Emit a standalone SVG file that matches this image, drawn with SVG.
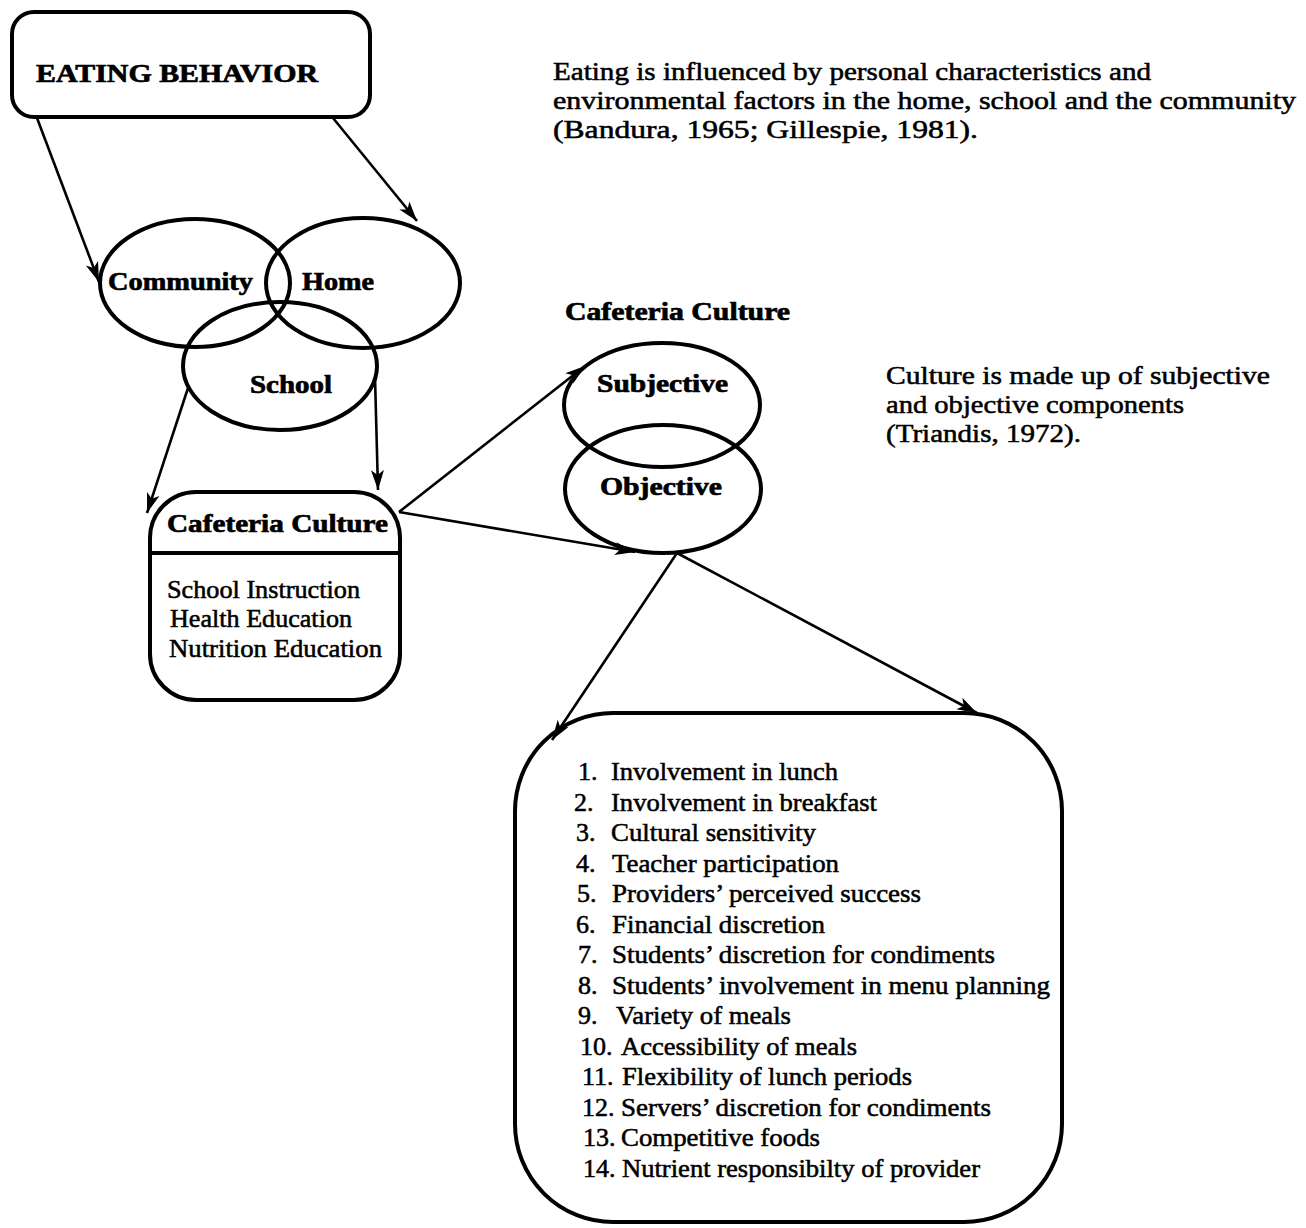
<svg xmlns="http://www.w3.org/2000/svg" width="1306" height="1228" viewBox="0 0 1306 1228" font-family="Liberation Serif, Times New Roman, Tinos, serif">
<style>
text{font-family:"Liberation Serif","Times New Roman",Tinos,Times,serif;fill:#000}
.h{font-weight:bold;font-size:26px;stroke:#000;stroke-width:0.7}
.b{font-size:26px;stroke:#000;stroke-width:0.55}
.li{font-size:26px;stroke:#000;stroke-width:0.55}
.shape{fill:none;stroke:#000;stroke-width:4}
.conn{fill:none;stroke:#000;stroke-width:2.6}
</style>
<defs>
<marker id="ah" markerUnits="userSpaceOnUse" markerWidth="22" markerHeight="16" refX="20" refY="8" orient="auto">
<path d="M0,1.5 L20,8 L0,14.5 L5,8 Z" fill="#000"/>
</marker>
</defs>
<rect width="1306" height="1228" fill="#fff"/>

<g id="eating-behavior">
<rect class="shape" x="12" y="12" width="358" height="105" rx="22"/>
<text class="h" x="36" y="82" font-size="28" textLength="282" lengthAdjust="spacingAndGlyphs">EATING BEHAVIOR</text>
</g>

<g id="community">
<ellipse class="shape" cx="195" cy="283" rx="95" ry="64"/>
<text class="h" x="108" y="290" textLength="145" lengthAdjust="spacingAndGlyphs">Community</text>
</g>
<g id="home">
<ellipse class="shape" cx="363" cy="283" rx="97" ry="65"/>
<text class="h" x="302" y="290" textLength="72" lengthAdjust="spacingAndGlyphs">Home</text>
</g>
<g id="school">
<ellipse class="shape" cx="280" cy="366" rx="97" ry="64"/>
<text class="h" x="250" y="393" textLength="82" lengthAdjust="spacingAndGlyphs">School</text>
</g>

<g id="cafeteria-box">
<rect class="shape" x="150" y="492" width="250" height="208" rx="46"/>
<line class="shape" x1="150" y1="553" x2="400" y2="553"/>
<text class="h" x="167" y="532" textLength="221" lengthAdjust="spacingAndGlyphs">Cafeteria Culture</text>
<text class="b" x="167" y="598" textLength="193" lengthAdjust="spacingAndGlyphs">School Instruction</text>
<text class="b" x="170" y="627" textLength="182" lengthAdjust="spacingAndGlyphs">Health Education</text>
<text class="b" x="169" y="657" textLength="213" lengthAdjust="spacingAndGlyphs">Nutrition Education</text>
</g>

<g id="cafeteria-culture-label">
<text class="h" x="565" y="320" textLength="225" lengthAdjust="spacingAndGlyphs">Cafeteria Culture</text>
</g>

<g id="subjective">
<ellipse class="shape" cx="662" cy="405" rx="98" ry="62"/>
<text class="h" x="597" y="392" textLength="131" lengthAdjust="spacingAndGlyphs">Subjective</text>
</g>
<g id="objective">
<ellipse class="shape" cx="663" cy="489" rx="98" ry="64"/>
<text class="h" x="600" y="495" textLength="122" lengthAdjust="spacingAndGlyphs">Objective</text>
</g>

<g id="note-eating">
<text class="b" x="553" y="80" textLength="598" lengthAdjust="spacingAndGlyphs">Eating is influenced by personal characteristics and</text>
<text class="b" x="553" y="109" textLength="743" lengthAdjust="spacingAndGlyphs">environmental factors in the home, school and the community</text>
<text class="b" x="553" y="138" textLength="425" lengthAdjust="spacingAndGlyphs">(Bandura, 1965; Gillespie, 1981).</text>
</g>

<g id="note-culture">
<text class="b" x="886" y="384" textLength="384" lengthAdjust="spacingAndGlyphs">Culture is made up of subjective</text>
<text class="b" x="886" y="413" textLength="298" lengthAdjust="spacingAndGlyphs">and objective components</text>
<text class="b" x="886" y="442" textLength="195" lengthAdjust="spacingAndGlyphs">(Triandis, 1972).</text>
</g>

<g id="components-list">
<rect class="shape" x="515" y="713" width="547" height="509" rx="98"/>
<text class="li" x="578" y="780">1.</text><text class="li" x="611" y="780" textLength="227" lengthAdjust="spacingAndGlyphs">Involvement in lunch</text>
<text class="li" x="574" y="810.5">2.</text><text class="li" x="611" y="810.5" textLength="266" lengthAdjust="spacingAndGlyphs">Involvement in breakfast</text>
<text class="li" x="576" y="841">3.</text><text class="li" x="611" y="841" textLength="205" lengthAdjust="spacingAndGlyphs">Cultural sensitivity</text>
<text class="li" x="576" y="871.5">4.</text><text class="li" x="612" y="871.5" textLength="227" lengthAdjust="spacingAndGlyphs">Teacher participation</text>
<text class="li" x="577" y="902">5.</text><text class="li" x="612" y="902" textLength="309" lengthAdjust="spacingAndGlyphs">Providers’ perceived success</text>
<text class="li" x="576" y="932.5">6.</text><text class="li" x="612" y="932.5" textLength="213" lengthAdjust="spacingAndGlyphs">Financial discretion</text>
<text class="li" x="578" y="963">7.</text><text class="li" x="612" y="963" textLength="383" lengthAdjust="spacingAndGlyphs">Students’ discretion for condiments</text>
<text class="li" x="578" y="993.5">8.</text><text class="li" x="612" y="993.5" textLength="438" lengthAdjust="spacingAndGlyphs">Students’ involvement in menu planning</text>
<text class="li" x="578" y="1024">9.</text><text class="li" x="616" y="1024" textLength="175" lengthAdjust="spacingAndGlyphs">Variety of meals</text>
<text class="li" x="580" y="1054.5">10.</text><text class="li" x="621" y="1054.5" textLength="236" lengthAdjust="spacingAndGlyphs">Accessibility of meals</text>
<text class="li" x="582" y="1085">11.</text><text class="li" x="622" y="1085" textLength="290" lengthAdjust="spacingAndGlyphs">Flexibility of lunch periods</text>
<text class="li" x="582" y="1115.5">12.</text><text class="li" x="621" y="1115.5" textLength="370" lengthAdjust="spacingAndGlyphs">Servers’ discretion for condiments</text>
<text class="li" x="583" y="1146">13.</text><text class="li" x="621" y="1146" textLength="199" lengthAdjust="spacingAndGlyphs">Competitive foods</text>
<text class="li" x="583" y="1176.5">14.</text><text class="li" x="622" y="1176.5" textLength="358" lengthAdjust="spacingAndGlyphs">Nutrient responsibilty of provider</text>
</g>

<g id="connectors">
<line class="conn" x1="37" y1="118" x2="99" y2="282" marker-end="url(#ah)"/>
<line class="conn" x1="333" y1="118" x2="417" y2="221" marker-end="url(#ah)"/>
<line class="conn" x1="188" y1="388" x2="147" y2="513" marker-end="url(#ah)"/>
<line class="conn" x1="375" y1="377" x2="378" y2="490" marker-end="url(#ah)"/>
<line class="conn" x1="399" y1="512" x2="585" y2="366" marker-end="url(#ah)"/>
<line class="conn" x1="399" y1="512" x2="635" y2="552" marker-end="url(#ah)"/>
<line class="conn" x1="677" y1="553" x2="552" y2="740" marker-end="url(#ah)"/>
<line class="conn" x1="677" y1="553" x2="977" y2="713" marker-end="url(#ah)"/>
</g>
</svg>
